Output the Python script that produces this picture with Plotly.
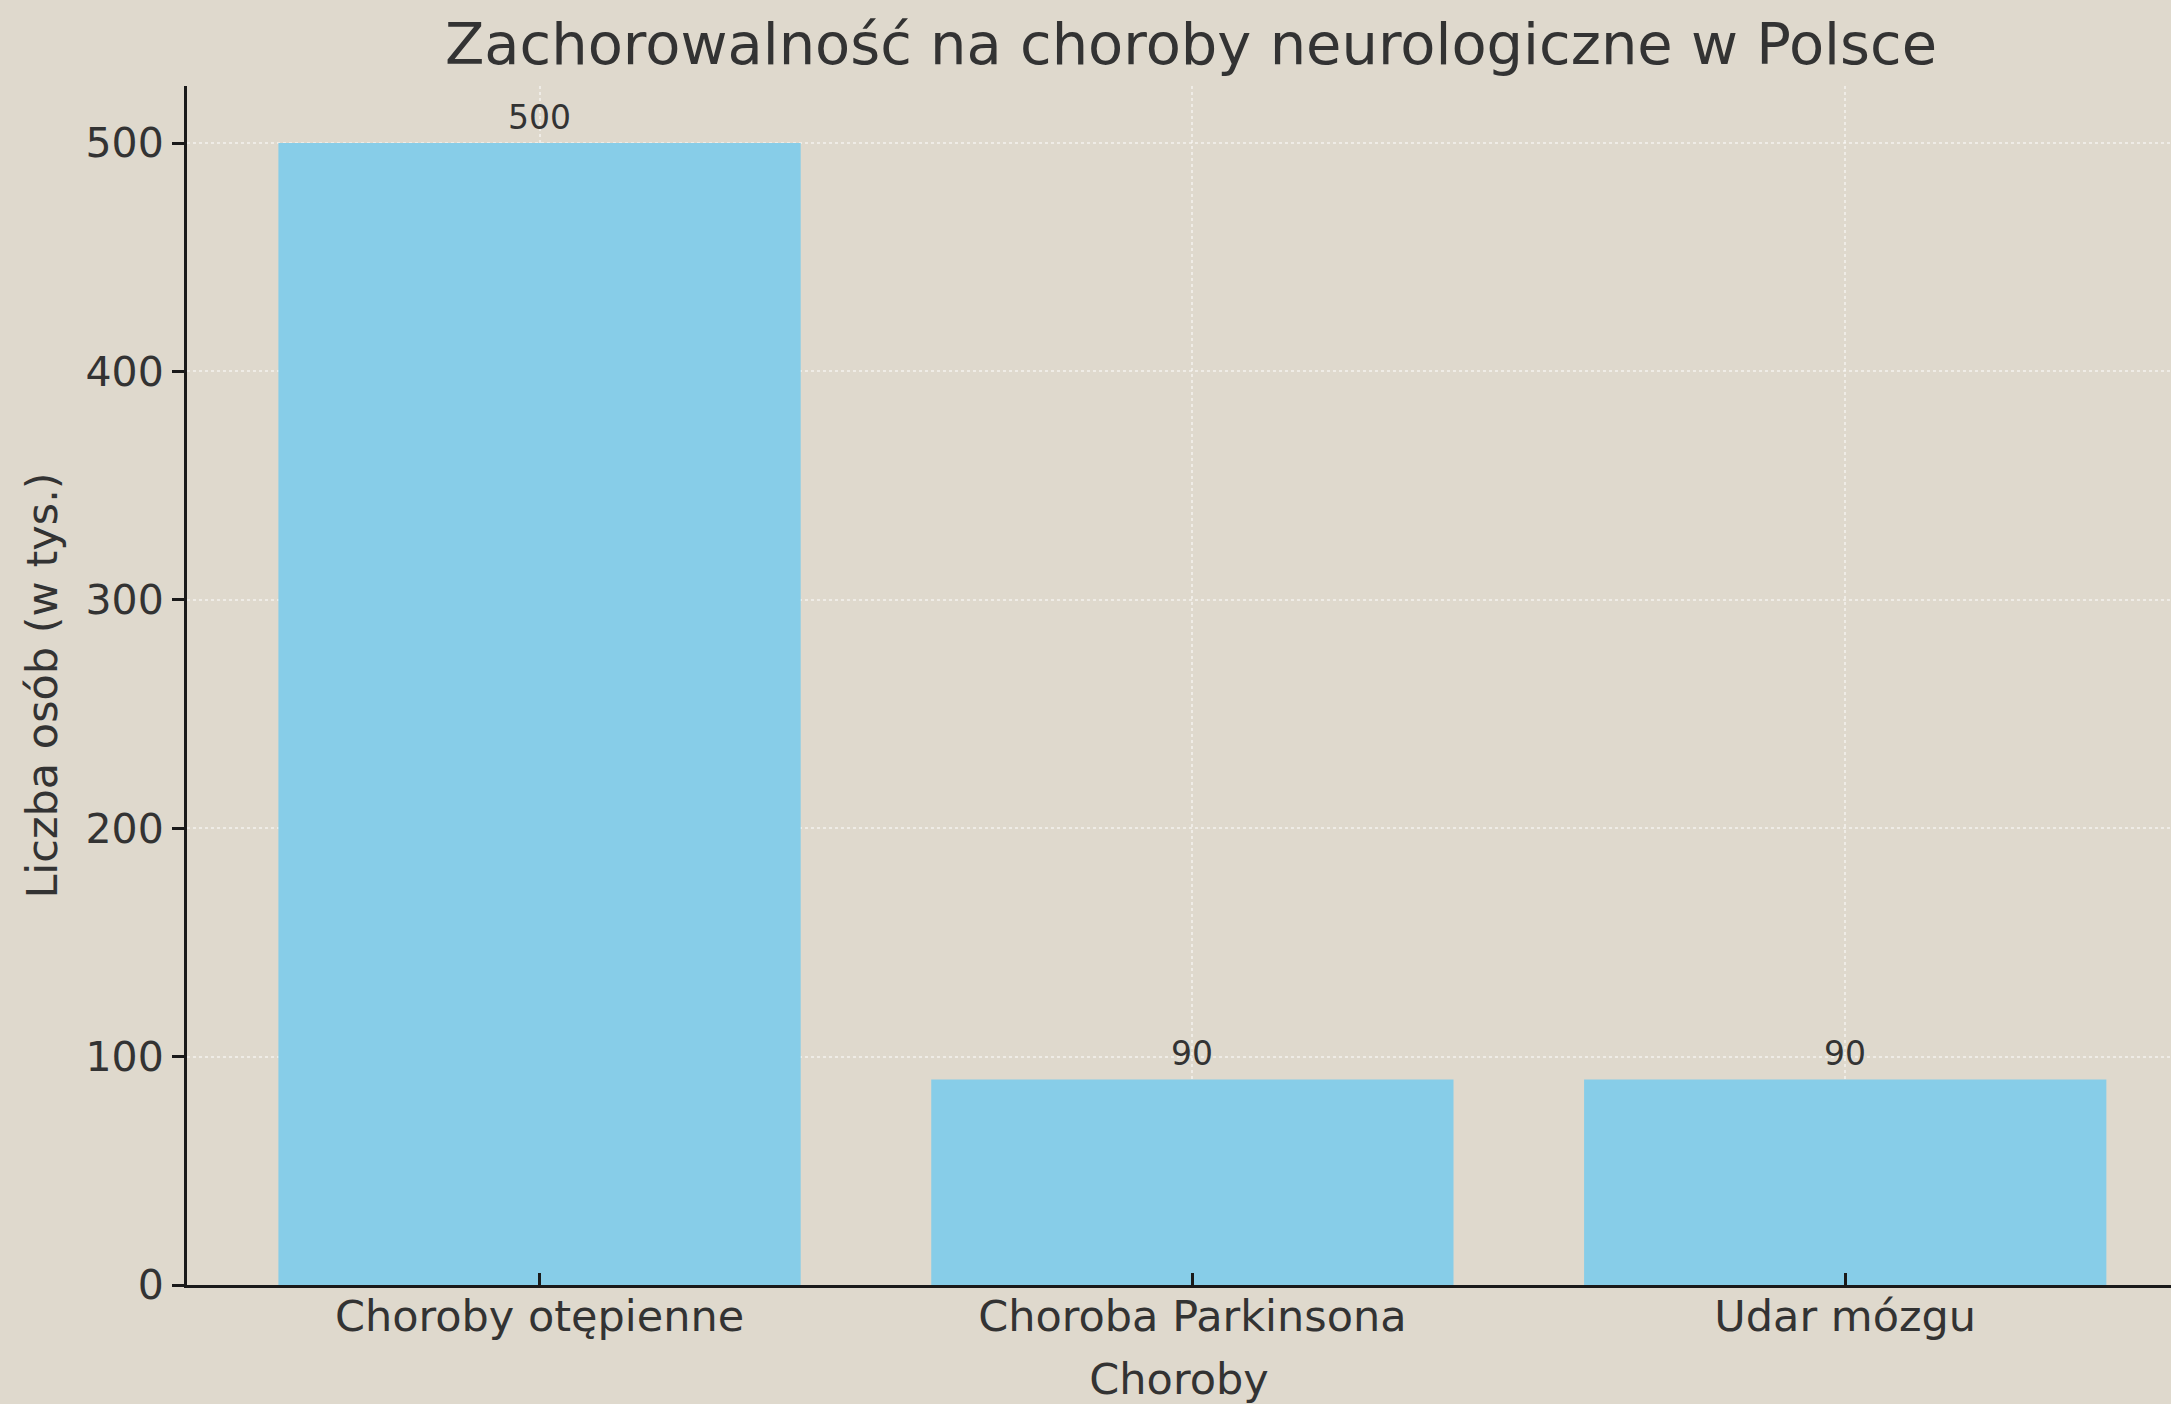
import plotly.graph_objects as go

categories = ["Choroby otępienne", "Choroba Parkinsona", "Udar mózgu"]
values = [500, 90, 90]
y_ticks = [0, 100, 200, 300, 400, 500]

title_text = "Zachorowalność na choroby neurologiczne w Polsce"
x_title = "Choroby"
y_title = "Liczba osób (w tys.)"

BG = "#DFD9CD"
BAR = "#87CDE8"
TXT = "#333333"
FONT = "DejaVu Sans"

W, H = 2171, 1404

fig = go.Figure()
fig.add_trace(go.Bar(
    x=categories, y=values, width=0.8,
    marker=dict(color=BAR, line=dict(width=0)),
    hoverinfo="skip", xaxis="x", yaxis="y",
))
# invisible trace to carry the inside tick marks drawn above the bars
fig.add_trace(go.Scatter(
    x=categories, y=[0] * len(categories), mode="markers",
    marker=dict(opacity=0), hoverinfo="skip", xaxis="x2", yaxis="y",
    showlegend=False,
))

for c, v in zip(categories, values):
    fig.add_annotation(
        x=c, y=v, xref="x", yref="y", text=str(v), showarrow=False,
        yanchor="bottom", yshift=4, font=dict(family=FONT, size=33, color=TXT),
    )

xr = [-0.54, 2.499]
fig.update_layout(
    width=W, height=H,
    paper_bgcolor=BG, plot_bgcolor=BG,
    showlegend=False,
    margin=dict(l=187, r=0, t=86, b=119),
    font=dict(family=FONT, color=TXT),
    title=dict(
        text=title_text, xref="container", x=1191 / W, xanchor="center",
        yref="container", y=1 - 44 / H, yanchor="middle",
        font=dict(family=FONT, size=57.5, color=TXT),
    ),
    xaxis=dict(
        type="category", categoryarray=categories, range=xr,
        showline=True, linecolor="#1a1a1a", linewidth=3,
        layer="below traces",
        ticks="", showgrid=True, gridcolor="rgba(255,255,255,0.5)",
        griddash="dot", gridwidth=2,
        tickfont=dict(family=FONT, size=43, color=TXT),
        ticklabelstandoff=-9,
        title=dict(text=x_title, standoff=28,
                   font=dict(family=FONT, size=43, color=TXT)),
        zeroline=False,
    ),
    xaxis2=dict(
        type="category", categoryarray=categories, range=xr,
        overlaying="x", matches="x", side="bottom", anchor="y",
        showline=False, showgrid=False, showticklabels=False,
        ticks="inside", ticklen=12, tickwidth=3, tickcolor="#1a1a1a",
        layer="above traces",
    ),
    yaxis=dict(
        range=[0, 525], tickvals=y_ticks,
        showline=True, linecolor="#1a1a1a", linewidth=3,
        ticks="outside", ticklen=12, tickwidth=2.5, tickcolor="#1a1a1a",
        showgrid=True, gridcolor="rgba(255,255,255,0.5)",
        griddash="dot", gridwidth=2,
        tickfont=dict(family=FONT, size=41, color=TXT),
        title=dict(text=y_title, standoff=15,
                   font=dict(family=FONT, size=43, color=TXT)),
        zeroline=False,
    ),
)

post = (
    "document.body.style.margin='0';"
    "document.body.style.overflow='hidden';"
    "document.body.style.background='" + BG + "';"
)
fig.write_html("out.html", post_script=post, config={"displayModeBar": False})
